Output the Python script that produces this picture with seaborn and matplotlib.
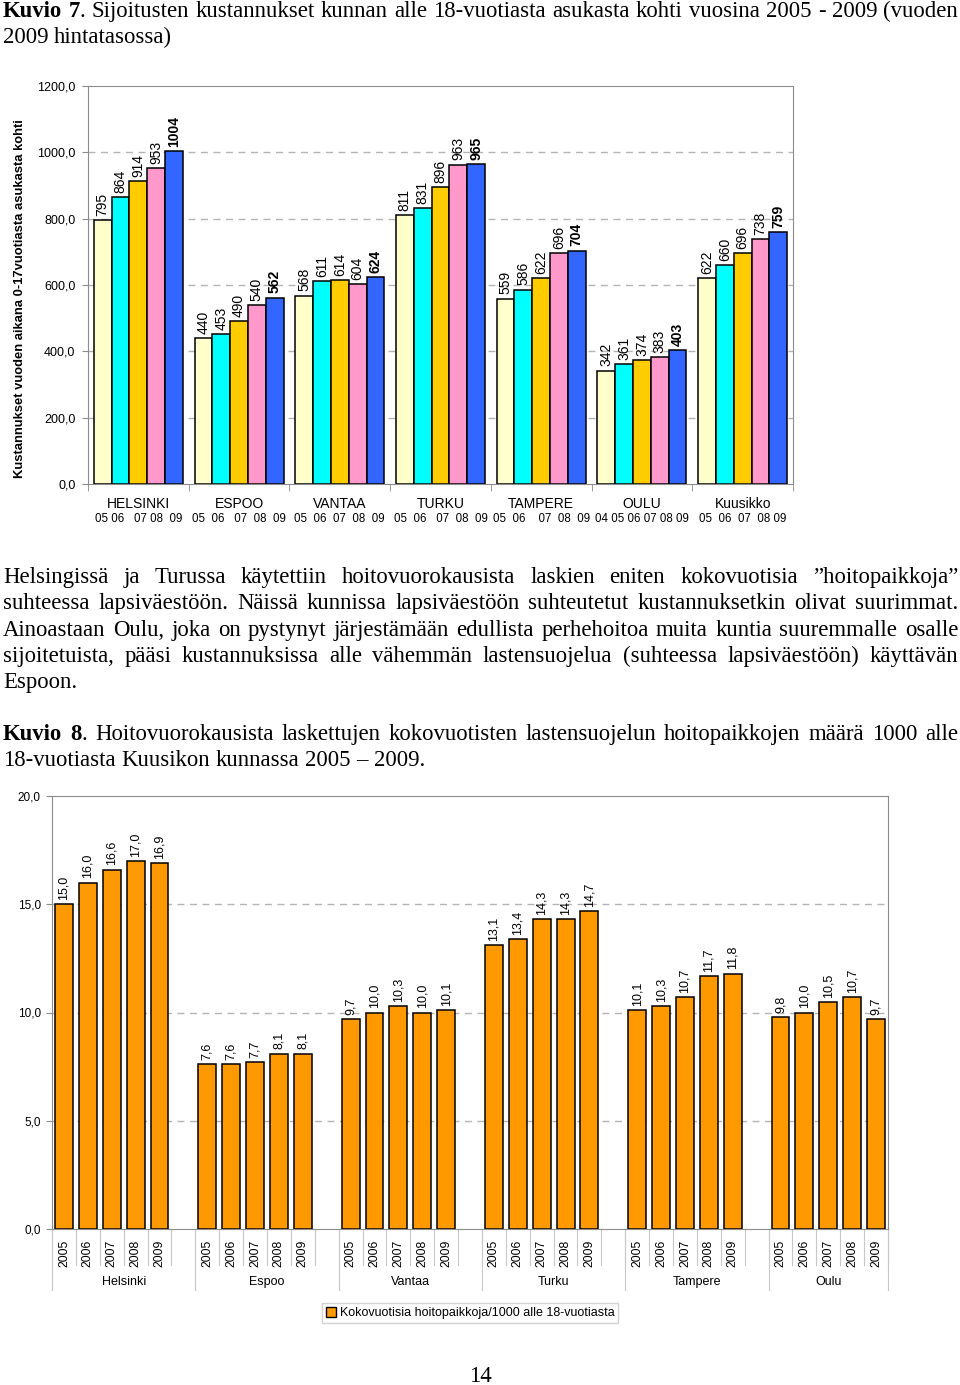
import numpy as np
import pandas as pd
import seaborn as sns
import matplotlib.pyplot as plt
from matplotlib.patches import Patch
from matplotlib.ticker import FuncFormatter

W, H = 960, 1385

# === Kuvio 7: kustannukset / alle 18-v asukas ===
kunnat7 = ["HELSINKI", "ESPOO", "VANTAA", "TURKU", "TAMPERE", "OULU", "Kuusikko"]
vuodet7 = ["05", "06", "07", "08", "09"]
kust_05 = [795, 440, 568, 811, 559, 342, 622]
kust_06 = [864, 453, 611, 831, 586, 361, 660]
kust_07 = [914, 490, 614, 896, 622, 374, 696]
kust_08 = [953, 540, 604, 963, 696, 383, 738]
kust_09 = [1004, 562, 624, 965, 704, 403, 759]
vuosirivit7 = ["05 06   07 08  09", "05  06   07  08  09", "05  06  07  08  09",
               "05  06   07  08  09", "05  06    07  08  09", "04 05 06 07 08 09",
               "05  06  07  08 09"]
varit7 = ["#FFFFCC", "#00FFFF", "#FFCC00", "#FF99CC", "#3366FF"]

# === Kuvio 8: kokovuotiset hoitopaikat / 1000 alle 18-v ===
kunnat8 = ["Helsinki", "Espoo", "Vantaa", "Turku", "Tampere", "Oulu"]
vuodet8 = ["2005", "2006", "2007", "2008", "2009"]
helsinki8 = [15.0, 16.0, 16.6, 17.0, 16.9]
espoo8 = [7.6, 7.6, 7.7, 8.1, 8.1]
vantaa8 = [9.7, 10.0, 10.3, 10.0, 10.1]
turku8 = [13.1, 13.4, 14.3, 14.3, 14.7]
tampere8 = [10.1, 10.3, 10.7, 11.7, 11.8]
oulu8 = [9.8, 10.0, 10.5, 10.7, 9.7]
legend8 = "Kokovuotisia hoitopaikkoja/1000 alle 18-vuotiasta"

otsikko7 = ["*Kuvio* *7*. Sijoitusten kustannukset kunnan alle 18-vuotiasta asukasta kohti vuosina 2005 - 2009 (vuoden",
            "2009 hintatasossa)"]
kappale = ["Helsingissä ja Turussa käytettiin hoitovuorokausista laskien eniten kokovuotisia ”hoitopaikkoja”",
           "suhteessa lapsiväestöön. Näissä kunnissa lapsiväestöön suhteutetut kustannuksetkin olivat suurimmat.",
           "Ainoastaan Oulu, joka on pystynyt järjestämään edullista perhehoitoa muita kuntia suuremmalle osalle",
           "sijoitetuista, pääsi kustannuksissa alle vähemmän lastensuojelua (suhteessa lapsiväestöön) käyttävän",
           "Espoon."]
otsikko8 = ["*Kuvio* *8*. Hoitovuorokausista laskettujen kokovuotisten lastensuojelun hoitopaikkojen määrä 1000 alle",
            "18-vuotiasta Kuusikon kunnassa 2005 – 2009."]

SANS = ["Liberation Sans", "DejaVu Sans"]
NARROW = ["Liberation Sans Narrow", "Liberation Sans", "DejaVu Sans"]
SERIF = ["Liberation Serif", "DejaVu Serif"]
GRID = "#b4b4b4"
SPINE = "#8c8c8c"

fig = plt.figure(figsize=(W / 100, H / 100), dpi=100)
renderer = fig.canvas.get_renderer()


def rivi(teksti, y_px, x0=3, x1=958, tasaa=True, size=16.4):
    """Kirjoita yksi tekstirivi, tasattuna molempiin reunoihin."""
    sanat = []
    for sana in teksti.split(" "):
        osat = sana.split("*")
        segs = []
        for i, osa in enumerate(osat):
            if not osa:
                continue
            t = fig.text(0, 1 - y_px / H, osa, fontsize=size, family=SERIF,
                         fontweight="bold" if i % 2 == 1 else "normal", va="baseline")
            segs.append((t, t.get_window_extent(renderer).width))
        sanat.append(segs)
    yht = sum(w for segs in sanat for _, w in segs)
    a = fig.text(0, 0, "a a", fontsize=size, family=SERIF).get_window_extent(renderer).width
    b = fig.text(0, 0, "aa", fontsize=size, family=SERIF).get_window_extent(renderer).width
    fig.texts[-1].remove()
    fig.texts[-1].remove()
    vali = (x1 - x0 - yht) / (len(sanat) - 1) if tasaa and len(sanat) > 1 else a - b
    x = x0
    for segs in sanat:
        for t, w in segs:
            t.set_x(x / W)
            x += w
        x += vali


rivi(otsikko7[0], 17)
rivi(otsikko7[1], 43, tasaa=False)
for i, r in enumerate(kappale):
    rivi(r, 583 + i * 26.3, tasaa=(i < len(kappale) - 1))
rivi(otsikko8[0], 740)
rivi(otsikko8[1], 766, tasaa=False)
fig.text(0.5, 1 - 1376 / H, "14", fontsize=16.4, family=SERIF, ha="center", va="center")

# ---------- Kuvio 7 ----------
df7 = pd.DataFrame({
    "kunta": np.repeat(kunnat7, len(vuodet7)),
    "vuosi": vuodet7 * len(kunnat7),
})
df7["arvo"] = [v for rivi7 in zip(kust_05, kust_06, kust_07, kust_08, kust_09) for v in rivi7]

ax1 = fig.add_axes([88 / W, 1 - 484 / H, 705 / W, 398 / H])
sns.barplot(data=df7, x="kunta", y="arvo", hue="vuosi", order=kunnat7, hue_order=vuodet7,
            palette=varit7, saturation=1, width=0.885, edgecolor="black", linewidth=1.1,
            errorbar=None, legend=False, ax=ax1)
for i, cont in enumerate(ax1.containers):
    ax1.bar_label(cont, labels=[str(int(v)) for v in cont.datavalues], rotation=90,
                  padding=3, fontsize=10, family=SANS,
                  fontweight="bold" if i == len(ax1.containers) - 1 else "normal")

ax1.set_ylim(0, 1200)
ax1.set_xlim(-0.5, len(kunnat7) - 0.5)
ax1.set_yticks(np.arange(0, 1201, 200))
ax1.yaxis.set_major_formatter(FuncFormatter(lambda v, p: f"{v:.1f}".replace(".", ",")))
for v in range(200, 1200, 200):
    ax1.axhline(v, color=GRID, lw=1, ls=(0, (5, 4)), zorder=0)
ax1.set_xticks(range(len(kunnat7)))
ax1.set_xticklabels(kunnat7, fontsize=10, family=SANS)
ax1.set_xticks(np.arange(-0.5, len(kunnat7), 1), minor=True)
ax1.tick_params(axis="x", which="major", length=0, pad=9.5)
ax1.tick_params(axis="x", which="minor", length=5, color=SPINE)
ax1.tick_params(axis="y", labelsize=9, length=4, color=SPINE, pad=5)
for lab in ax1.get_yticklabels():
    lab.set_family(SANS)
for s in ax1.spines.values():
    s.set_color(SPINE)
ax1.set_xlabel("")
ax1.set_ylabel("")
for i, txt in enumerate(vuosirivit7):
    ax1.text(i, -0.087, txt, transform=ax1.get_xaxis_transform(), ha="center", va="center",
             fontsize=8.3, family=SANS)
fig.text(20 / W, 1 - 299 / H, "Kustannukset vuoden aikana 0-17vuotiasta asukasta kohti",
         rotation=90, ha="center", va="center", fontsize=9.4, fontweight="bold", family=SANS)

# ---------- Kuvio 8 ----------
sarjat8 = [helsinki8, espoo8, vantaa8, turku8, tampere8, oulu8]
ryhma = len(vuodet8) + 1
df8 = pd.DataFrame([
    {"kunta": k, "vuosi": y, "arvo": arvot[j], "paikka": gi * ryhma + j}
    for gi, (k, arvot) in enumerate(zip(kunnat8, sarjat8))
    for j, y in enumerate(vuodet8)
])

ax2 = fig.add_axes([52 / W, 1 - 1229 / H, 836 / W, 433 / H])
sns.barplot(data=df8, x="paikka", y="arvo", native_scale=True, color="#FF9900", saturation=1,
            width=0.75, edgecolor="black", linewidth=1.1, errorbar=None, ax=ax2)
ax2.bar_label(ax2.containers[0], labels=[f"{v:.1f}".replace(".", ",") for v in df8["arvo"]],
              rotation=90, padding=3, fontsize=9, family=SANS)
n_paikat = len(kunnat8) * ryhma - 1
ax2.set_xlim(-0.5, n_paikat - 0.5)
ax2.set_ylim(0, 20)
ax2.set_yticks(np.arange(0, 21, 5))
ax2.yaxis.set_major_formatter(FuncFormatter(lambda v, p: f"{v:.1f}".replace(".", ",")))
for v in (5, 10, 15):
    ax2.axhline(v, color=GRID, lw=1, ls=(0, (5, 4)), zorder=0)
ax2.set_xticks(df8["paikka"])
ax2.set_xticklabels(df8["vuosi"], rotation=90, fontsize=8.8, family=SANS)
ax2.tick_params(axis="x", length=0, pad=8)
ax2.tick_params(axis="y", labelsize=8.5, length=4, color=SPINE, pad=4)
for lab in ax2.get_yticklabels():
    lab.set_family(SANS)
for s in ax2.spines.values():
    s.set_color(SPINE)
ax2.set_xlabel("")
ax2.set_ylabel("")
xt = ax2.get_xaxis_transform()
for b in np.arange(-0.5, n_paikat, 1):
    ax2.plot([b, b], [0, -0.083], transform=xt, color="#c8c8c8", lw=0.8, clip_on=False)
rajat = [gi * ryhma - 0.5 for gi in range(len(kunnat8))] + [n_paikat - 0.5]
for b in rajat:
    ax2.plot([b, b], [0, -0.141], transform=xt, color="#c8c8c8", lw=0.8, clip_on=False)
for gi, k in enumerate(kunnat8):
    ax2.text((rajat[gi] + rajat[gi + 1]) / 2, -0.122, k, transform=xt, ha="center", va="center",
             fontsize=9, family=NARROW)
fig.legend(handles=[Patch(facecolor="#FF9900", edgecolor="black", label=legend8)],
           loc="center", bbox_to_anchor=(470 / W, 1 - 1313 / H),
           prop={"family": NARROW, "size": 9}, frameon=True, fancybox=False,
           edgecolor="#c8c8c8", handlelength=0.8, handleheight=0.8, handletextpad=0.3,
           borderpad=0.3, borderaxespad=0)

fig.savefig("out.png", dpi=100)
